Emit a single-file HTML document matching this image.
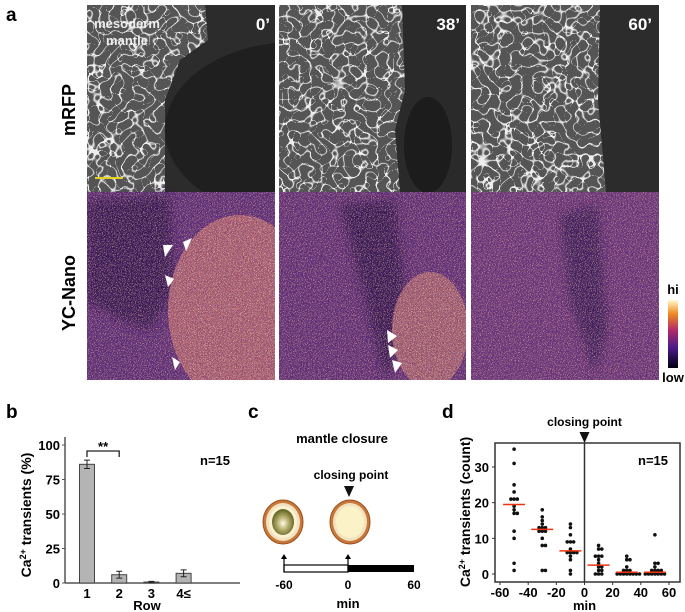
<!DOCTYPE html>
<html><head><meta charset="utf-8"><style>
html,body{margin:0;padding:0;background:#fff;}
body{width:685px;height:612px;position:relative;overflow:hidden;font-family:"Liberation Sans",Arial,sans-serif;}
svg{position:absolute;left:0;top:0;}
text{font-family:"Liberation Sans",Arial,sans-serif;font-weight:bold;}
</style></head><body>
<svg id="fig" width="685" height="612" viewBox="0 0 685 612">
<defs>
 <filter id="speckOrange" x="0" y="0" width="100%" height="100%">
  <feTurbulence type="fractalNoise" baseFrequency="1.2" numOctaves="1" seed="3"/>
  <feColorMatrix type="matrix" values="0 0 0 0 0.95  0 0 0 0 0.45  0 0 0 0 0.3  4 0 0 0 -2.1"/>
 </filter>
 <filter id="speckDark" x="0" y="0" width="100%" height="100%">
  <feTurbulence type="fractalNoise" baseFrequency="1.2" numOctaves="1" seed="11"/>
  <feColorMatrix type="matrix" values="0 0 0 0 0.12  0 0 0 0 0.05  0 0 0 0 0.3  4 0 0 0 -2.0"/>
 </filter>
 <filter id="speckWhite" x="0" y="0" width="100%" height="100%">
  <feTurbulence type="fractalNoise" baseFrequency="1.2" numOctaves="1" seed="21"/>
  <feColorMatrix type="matrix" values="0 0 0 0 1  0 0 0 0 0.95  0 0 0 0 0.8  5 0 0 0 -3.0"/>
 </filter>
 <filter id="cells" x="0" y="0" width="100%" height="100%">
  <feTurbulence type="turbulence" baseFrequency="0.09" numOctaves="1" seed="7"/>
  <feColorMatrix type="matrix" values="0 0 0 0 0.85  0 0 0 0 0.85  0 0 0 0 0.85  -14 0 0 0 1.0"/>
 </filter>
 <filter id="blur4"><feGaussianBlur stdDeviation="5"/></filter>
 <linearGradient id="cbar" x1="0" y1="1" x2="0" y2="0">
  <stop offset="0" stop-color="#000010"/><stop offset="0.3" stop-color="#4a1a8a"/>
  <stop offset="0.55" stop-color="#b02a6a"/><stop offset="0.8" stop-color="#f08a20"/>
  <stop offset="1" stop-color="#fffbd0"/>
 </linearGradient>
 <radialGradient id="egg" cx="0.5" cy="0.55" r="0.5">
  <stop offset="0" stop-color="#fffbe8"/><stop offset="0.5" stop-color="#b8b070"/><stop offset="1" stop-color="#6a6a2a"/>
 </radialGradient>
 <clipPath id="c1"><rect x="87" y="5" width="188" height="375"/></clipPath>
 <clipPath id="c2"><rect x="279" y="5" width="187" height="375"/></clipPath>
 <clipPath id="c3"><rect x="471" y="5" width="188" height="375"/></clipPath>
 <clipPath id="cells1"><path d="M87 5 L205 5 L208 40 L180 60 L165 100 L165 192 L87 192Z"/></clipPath>
 <clipPath id="cells2"><path d="M279 5 L402 5 L405 90 L395 130 L400 192 L279 192Z"/></clipPath>
 <clipPath id="cells3"><path d="M471 5 L600 5 L598 100 L606 192 L471 192Z"/></clipPath>
 <clipPath id="ov1"><ellipse cx="240" cy="310" rx="72" ry="95"/></clipPath>
 <clipPath id="ov2"><ellipse cx="430" cy="330" rx="38" ry="58"/></clipPath>
</defs>

<text x="6" y="21" font-size="19">a</text>

<!-- mRFP row -->
<g clip-path="url(#c1)">
 <rect x="87" y="5" width="188" height="187" fill="#2c2c2c"/>
 <g clip-path="url(#cells1)">
  <rect x="87" y="5" width="188" height="187" fill="#555"/>
  <rect x="87" y="5" width="188" height="187" filter="url(#cells)"/>
 </g>
 <ellipse cx="295" cy="130" rx="130" ry="88" fill="#1f1f1f"/>
</g>
<g clip-path="url(#c2)">
 <rect x="279" y="5" width="187" height="187" fill="#2a2a2a"/>
 <g clip-path="url(#cells2)">
  <rect x="279" y="5" width="187" height="187" fill="#555"/>
  <rect x="279" y="5" width="187" height="187" filter="url(#cells)"/>
 </g>
 <ellipse cx="428" cy="145" rx="24" ry="48" fill="#1c1c1c"/>
</g>
<g clip-path="url(#c3)">
 <rect x="471" y="5" width="188" height="187" fill="#2c2c2c"/>
 <g clip-path="url(#cells3)">
  <rect x="471" y="5" width="188" height="187" fill="#555"/>
  <rect x="471" y="5" width="188" height="187" filter="url(#cells)"/>
 </g>
</g>
<!-- YC row -->
<g clip-path="url(#c1)">
 <rect x="87" y="192" width="188" height="188" fill="#5a2c72"/>
 <path d="M87 200 L170 195 L175 290 L150 330 L120 320 L87 300Z" fill="#33184e" filter="url(#blur4)"/>
 <ellipse cx="240" cy="310" rx="72" ry="95" fill="#a85a68"/>
 <rect x="87" y="192" width="188" height="188" filter="url(#speckDark)"/>
 <rect x="87" y="192" width="188" height="188" filter="url(#speckOrange)"/>
</g>
<g clip-path="url(#c2)">
 <rect x="279" y="192" width="187" height="188" fill="#5e2e72"/>
 <path d="M340 205 L395 200 L410 330 L385 380 L365 300Z" fill="#33184e" filter="url(#blur4)"/>
 <ellipse cx="430" cy="330" rx="38" ry="58" fill="#a05a68"/>
 <rect x="279" y="192" width="187" height="188" filter="url(#speckDark)"/>
 <rect x="279" y="192" width="187" height="188" filter="url(#speckOrange)"/>
</g>
<g clip-path="url(#c3)">
 <rect x="471" y="192" width="188" height="188" fill="#683476"/>
 <path d="M560 215 L598 205 L608 330 L595 375 L570 300Z" fill="#3a1a56" filter="url(#blur4)"/>
 <rect x="471" y="192" width="188" height="188" filter="url(#speckDark)"/>
 <rect x="471" y="192" width="188" height="188" filter="url(#speckOrange)"/>
</g>
<g>
 <rect x="87" y="192" width="188" height="188" filter="url(#speckWhite)" clip-path="url(#ov1)"/>
 <rect x="279" y="192" width="187" height="188" filter="url(#speckWhite)" clip-path="url(#ov2)"/>
</g>
<line x1="277" y1="5" x2="277" y2="380" stroke="#fff" stroke-width="4"/>
<line x1="469" y1="5" x2="469" y2="380" stroke="#fff" stroke-width="4"/>

<g fill="#fff">
 <path d="M163 245 L173 245 L165 257Z"/><path d="M183 242 L192 238 L186 251Z"/>
 <path d="M165 275 L174 279 L168 287Z"/><path d="M172 357 L180 362 L175 370Z"/>
 <path d="M387 330 L397 336 L388 343Z"/><path d="M388 345 L398 350 L390 358Z"/><path d="M392 360 L402 363 L395 373Z"/>
</g>

<text x="127" y="28" font-size="13" fill="#eee" text-anchor="middle">mesoderm</text>
<text x="127" y="45" font-size="13" fill="#eee" text-anchor="middle">mantle</text>
<text x="270" y="30" font-size="17" fill="#fff" text-anchor="end">0’</text>
<text x="460" y="30" font-size="17" fill="#fff" text-anchor="end">38’</text>
<text x="652" y="30" font-size="17" fill="#fff" text-anchor="end">60’</text>
<line x1="95" y1="178" x2="123" y2="178" stroke="#e8d020" stroke-width="2"/>
<text transform="translate(75,110) rotate(-90)" font-size="18" text-anchor="middle">mRFP</text>
<text transform="translate(75,293) rotate(-90)" font-size="18" text-anchor="middle">YC-Nano</text>
<rect x="668" y="300" width="10" height="68" fill="url(#cbar)"/>
<text x="673" y="294" font-size="13" text-anchor="middle">hi</text>
<text x="673" y="382" font-size="13" text-anchor="middle">low</text>

<!-- panel b -->
<text x="6" y="418" font-size="19">b</text>
<g id="chartB"></g>

<!-- panel c -->
<g>
 <text x="248" y="418" font-size="19">c</text>
 <text x="342" y="443" font-size="13" text-anchor="middle">mantle closure</text>
 <text x="351" y="479" font-size="12" text-anchor="middle">closing point</text>
 <path d="M344 486 L354 486 L349 497Z" fill="#111"/>
 <g>
  <ellipse cx="283" cy="522" rx="20" ry="22" fill="#c87838" stroke="#9a5020" stroke-width="1"/>
  <ellipse cx="283" cy="522" rx="17" ry="19" fill="#f3e2c0"/>
  <ellipse cx="283" cy="522" rx="14" ry="16" fill="#fbf2d2"/>
  <ellipse cx="283" cy="522" rx="11" ry="13" fill="url(#egg)"/>
 </g>
 <g>
  <ellipse cx="350" cy="522" rx="20" ry="22" fill="#c87838" stroke="#9a5020" stroke-width="1"/>
  <ellipse cx="350" cy="522" rx="17" ry="19" fill="#f3e2c0"/>
  <ellipse cx="350" cy="522" rx="14" ry="16" fill="#fbf2c8"/>
 </g>
 <rect x="284" y="565" width="64" height="7" fill="#fff" stroke="#000" stroke-width="1.2"/>
 <rect x="348" y="565" width="66" height="7" fill="#000"/>
 <line x1="284" y1="572" x2="284" y2="556" stroke="#000" stroke-width="1.2"/>
 <path d="M281 559 L284 554 L287 559Z" fill="#000"/>
 <line x1="348" y1="572" x2="348" y2="556" stroke="#000" stroke-width="1.2"/>
 <path d="M345 559 L348 554 L351 559Z" fill="#000"/>
 <text x="284" y="589" font-size="12" text-anchor="middle">-60</text>
 <text x="348" y="589" font-size="12" text-anchor="middle">0</text>
 <text x="414" y="589" font-size="12" text-anchor="middle">60</text>
 <text x="348" y="608" font-size="13" text-anchor="middle">min</text>
</g>

<!-- panel d -->
<text x="442" y="418" font-size="19">d</text>
<g id="chartD"></g>
</svg>

<script>
// ---- Panel b data ----
const bCategories = ["1","2","3","4≤"];
const bValues = [86, 6, 0.7, 7];
const bErrors = [3, 2.5, 0.5, 2.5];
const bTicks = [0,25,50,75,100];

// ---- Panel d data ----
const dGroups = [-50,-30,-10,10,30,50];
const dMedians = [19.5,12.5,6.5,2.5,0.5,0.5];
const dPoints = [
 [35,31,25,23,21,21,21,19,18,17,17,12,10,3,1],
 [18,16,15,14,13,13,13,12,12,12,10,8,8,1,1],
 [14,13,11,9,9,9,7,6,6,6,6,5,4,1,0],
 [8,7,7,5,5,5,4,3,2,2,1,1,0,0,0],
 [5,4,4,2,1,1,1,0,0,0,0,0,0,0,0],
 [11,3,3,2,1,1,1,1,0,0,0,0,0,0,0]
];
const dXTicks = [-60,-40,-20,0,20,40,60];
const dYTicks = [0,10,20,30];

const NS="http://www.w3.org/2000/svg";
function mk(parent,tag,attrs,txt){const e=document.createElementNS(NS,tag);for(const k in attrs)e.setAttribute(k,attrs[k]);if(txt!==undefined)e.textContent=txt;parent.appendChild(e);return e;}

// Panel b
(function(){
 const g=document.getElementById('chartB');
 const y0=583,y100=445,left=65,right=240;
 const yS=v=>y0-(v/100)*(y0-y100);
 const xC=i=>87+i*32.2;
 mk(g,'line',{x1:left,y1:y100-8,x2:left,y2:y0,stroke:'#555','stroke-width':1.5});
 mk(g,'line',{x1:left,y1:y0,x2:right,y2:y0,stroke:'#555','stroke-width':1.5});
 bTicks.forEach(t=>{
  mk(g,'line',{x1:left-3,y1:yS(t),x2:left,y2:yS(t),stroke:'#555'});
  const tx=mk(g,'text',{x:left-5,y:yS(t)+5,'font-size':13,'text-anchor':'end'},t);
  
  
 });
 bCategories.forEach((c,i)=>{
  const x=xC(i);
  const r=mk(g,'rect',{x:x-7.5,y:yS(bValues[i]),width:15,height:y0-yS(bValues[i]),fill:'#b4b4b4',stroke:'#444','stroke-width':1});
  
  
  const t=yS(bValues[i]+bErrors[i]),b=yS(bValues[i]-bErrors[i]);
  const e=mk(g,'path',{d:`M${x} ${t}V${b}M${x-3} ${t}H${x+3}M${x-3} ${b}H${x+3}`,stroke:'#222',fill:'none'});
  
  
  const lb=mk(g,'text',{x:x,y:598,'font-size':13,'text-anchor':'middle'},c);
  
  
 });
 const br=mk(g,'path',{d:`M${xC(0)} 457V451H${xC(1)}V457`,stroke:'#222',fill:'none','stroke-width':1.3});
 
 
 const st=mk(g,'text',{x:(xC(0)+xC(1))/2,y:451,'font-size':13,'text-anchor':'middle'},'**');
 
 
 const n=mk(g,'text',{x:215,y:465,'font-size':13,'text-anchor':'middle'},'n=15');
 
 
 const xt=mk(g,'text',{x:147,y:610,'font-size':13,'text-anchor':'middle'},'Row');
 
 
 const yt=mk(g,'text',{transform:'translate(31,515) rotate(-90)','font-size':14,'text-anchor':'middle'});
 yt.innerHTML='Ca<tspan font-size="9" dy="-5">2+</tspan><tspan dy="5"> transients (%)</tspan>';
 
 
})();

// Panel d
(function(){
 const g=document.getElementById('chartD');
 const L=495,R=680,T=443,B=582;
 const xS=v=>584.5+v*1.408;
 const yS=v=>574-v*3.567;
 mk(g,'rect',{x:L,y:T,width:R-L,height:B-T,fill:'none',stroke:'#333','stroke-width':1.5});
 mk(g,'line',{x1:xS(0),y1:T,x2:xS(0),y2:B,stroke:'#333','stroke-width':1.5});
 dXTicks.forEach(t=>{
  mk(g,'line',{x1:xS(t),y1:B,x2:xS(t),y2:B+3,stroke:'#333'});
  const tx=mk(g,'text',{x:xS(t),y:597,'font-size':13,'text-anchor':'middle'},t);
  
  
 });
 dYTicks.forEach(t=>{
  mk(g,'line',{x1:L-3,y1:yS(t),x2:L,y2:yS(t),stroke:'#333'});
  const tx=mk(g,'text',{x:L-6,y:yS(t)+5,'font-size':13,'text-anchor':'end'},t);
  
  
 });
 dGroups.forEach((gx,i)=>{
  const counts={};
  dPoints[i].forEach(v=>{
   const k=counts[v]||0;counts[v]=k+1;
   const off=k===0?0:(k%2?1:-1)*Math.ceil(k/2)*3.2;
   const c=mk(g,'circle',{cx:xS(gx)+off,cy:yS(v),r:1.8,fill:'#111'});
   
   
  });
  const m=mk(g,'line',{x1:xS(gx)-11,x2:xS(gx)+11,y1:yS(dMedians[i]),y2:yS(dMedians[i]),stroke:'#ee3311','stroke-width':1.5});
  
  
 });
 const cp=mk(g,'text',{x:xS(0),y:426,'font-size':12,'text-anchor':'middle'},'closing point');
 
 
 const tri=mk(g,'path',{d:`M${xS(0)-5} 432H${xS(0)+5}L${xS(0)} 443Z`,fill:'#111'});
 
 
 const n=mk(g,'text',{x:653,y:465,'font-size':13,'text-anchor':'middle'},'n=15');
 
 
 const xt=mk(g,'text',{x:xS(0),y:610,'font-size':13,'text-anchor':'middle'},'min');
 
 
 const yt=mk(g,'text',{transform:'translate(470,512) rotate(-90)','font-size':14,'text-anchor':'middle'});
 yt.innerHTML='Ca<tspan font-size="9" dy="-5">2+</tspan><tspan dy="5"> transients (count)</tspan>';
 
 
})();
</script>
</body></html>
